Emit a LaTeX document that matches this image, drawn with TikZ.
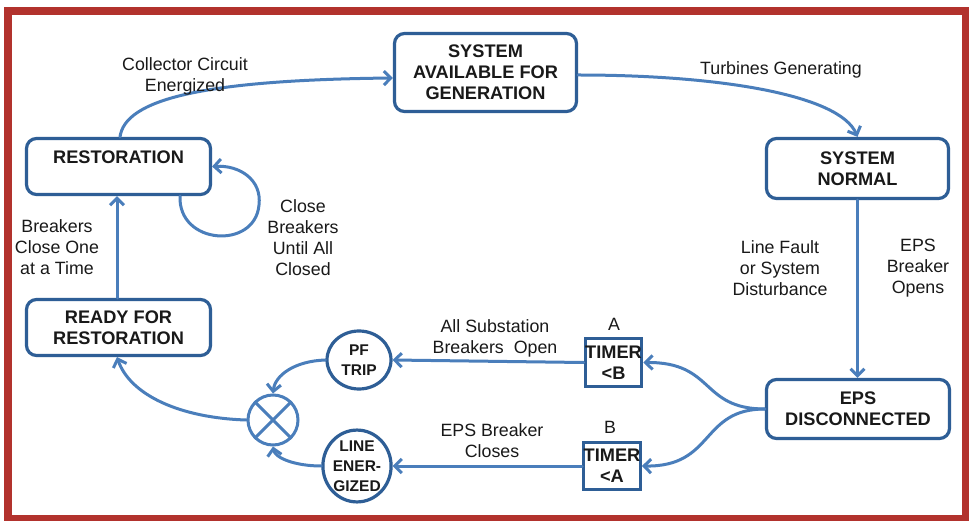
\documentclass[tikz,border=0pt]{standalone}
\usepackage{fontspec}
\setmainfont{Liberation Sans}
\usetikzlibrary{arrows.meta,shapes.geometric}
\definecolor{framered}{RGB}{178,50,45}
\definecolor{boxblue}{RGB}{46,94,150}
\definecolor{linkblue}{RGB}{74,126,187}
\definecolor{ink}{RGB}{25,25,25}

\begin{document}
\begin{tikzpicture}[x=1pt,y=-1pt,
  state/.style={draw=boxblue, line width=3.2pt, rounded corners=10pt, fill=white,
    font=\bfseries\fontsize{18.2}{21}\selectfont, align=center, text=ink, inner sep=0pt},
  boxtext/.style={font=\bfseries\fontsize{18.2}{21}\selectfont, align=center, text=ink, inner sep=0pt},
  timer/.style={draw=boxblue, line width=3.2pt, fill=white,
    font=\bfseries\fontsize{18.2}{21}\selectfont, align=center, text=ink, inner sep=0pt},
  event/.style={ellipse, draw=boxblue, line width=3.2pt, fill=white,
    font=\bfseries\fontsize{15.5}{20}\selectfont, align=center, text=ink, inner sep=0pt},
  note/.style={font=\fontsize{17.8}{21}\selectfont, align=center, text=ink, inner sep=0pt},
  link/.style={draw=linkblue, line width=3pt, line cap=round,
    -{Straight Barb[length=7pt,width=14pt]}},
]
\useasboundingbox (0,0) rectangle (969,521);

% red frame
\fill[framered] (4,7) rectangle (969,521);
\fill[white] (12,15) rectangle (962,515);

% states
\node[state, minimum width=182pt, minimum height=78pt] (safg) at (485.5,72.5)
  {SYSTEM\\AVAILABLE FOR\\GENERATION};
\node[state, minimum width=182pt, minimum height=60pt] (normal) at (857.5,168.5)
  {SYSTEM\\NORMAL};
\node[state, minimum width=184pt, minimum height=56pt] (restoration) at (118.5,166.5) {};
\node[boxtext] (restorationtext) at (118.5,157) {RESTORATION};
\node[state, minimum width=184pt, minimum height=56pt] (ready) at (118.5,327.5)
  {READY FOR\\RESTORATION};
\node[state, minimum width=183pt, minimum height=59pt] (eps) at (858,409)
  {EPS\\DISCONNECTED};

% timers
\node[timer, minimum width=56pt, minimum height=48pt] (timerB) at (613.5,362.5) {TIMER\\<B};
\node[timer, minimum width=55pt, minimum height=47pt] (timerA) at (612,466) {TIMER\\<A};
\node[note] (timerBname) at (614,324) {A};
\node[note] (timerAname) at (610,427) {B};

% events and join
\node[event, minimum width=64pt, minimum height=58pt] (pf) at (359,360) {PF\\TRIP};
\node[event, minimum width=64pt, minimum height=60pt] (lineen) at (357,466) {LINE\\ENER-\\GIZED};
\node[circle, draw=linkblue, line width=3pt, fill=white, minimum size=50pt, inner sep=0pt]
  (xj) at (273,420) {};
\draw[linkblue, line width=3pt] (xj.north east) -- (xj.south west)
  (xj.north west) -- (xj.south east);

% transitions
\draw[link] ([xshift=1.5pt]restoration.north) .. controls (125,100) and (200,80) ..
  ([yshift=-5.5pt]safg.west);
\draw[link] ([yshift=-2.5pt]safg.east) .. controls (720,75) and (840,95) .. (normal.north);
\draw[link] (normal.south) -- (normal.south |- eps.north);
\draw[link] (eps.west) .. controls (700,409) and (715,362) .. (timerB.east);
\draw[link] (eps.west) .. controls (700,409) and (715,467) .. (timerA.east);
\draw[link] (timerB.west) -- (pf.east);
\draw[link] (timerA.west) -- (lineen.east);
\draw[link] (pf.west) .. controls (295,361) and (275,375) .. (xj.north);
\draw[link] (lineen.west) .. controls (295,466) and (275,458) .. (xj.south);
\draw[link] (xj.west) .. controls (180,418) and (130,395) .. ([xshift=-1.5pt]ready.south);
\draw[link] ([xshift=-1.5pt]ready.north) -- ([xshift=-1.5pt]restoration.south);
\draw[link] ([xshift=61.5pt]restoration.south) .. controls (178,245) and (255,250) ..
  (259,205) .. controls (262,180) and (240,165) .. (restoration.east);

% labels
\node[note] (lbcollector) at (185,76) {Collector Circuit\\Energized};
\node[note] (lbturbines) at (781,70) {Turbines Generating};
\node[note] (lbclose) at (303,238) {Close\\Breakers\\Until All\\Closed};
\node[note] (lbone) at (57,247) {Breakers\\Close One\\at a Time};
\node[note] (lbfault) at (780,268) {Line Fault\\or System\\Disturbance};
\node[note] (lbopens) at (918,268) {EPS\\Breaker\\Opens};
\node[note] (lbsub) at (495,338) {All Substation\\Breakers\ \ Open};
\node[note] (lbcloses) at (492,441) {EPS Breaker\\Closes};
\end{tikzpicture}
\end{document}
